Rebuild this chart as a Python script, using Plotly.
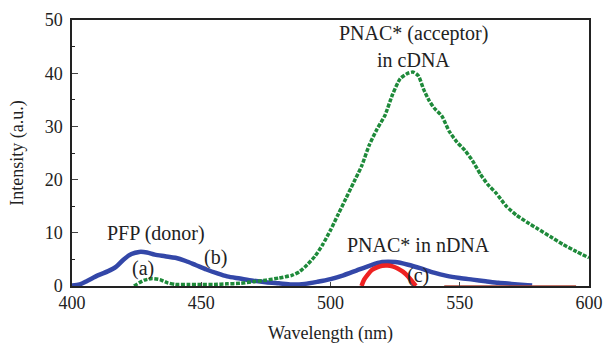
import plotly.graph_objects as go

# Blue: PFP donor + PNAC* in nDNA
blue_wl = [400, 403, 406, 410, 414, 417, 420, 423, 426, 429, 432, 436, 440, 444, 448, 452, 456, 460,
           465, 470, 475, 480, 485, 490, 495, 500, 505, 510, 515, 520, 525, 530, 535, 540, 545, 550,
           555, 560, 565, 570, 575, 578]
blue_int = [0.1, 0.3, 1.0, 2.0, 2.8, 3.6, 5.0, 6.0, 6.4, 6.3, 5.9, 5.6, 5.3, 4.7, 3.9, 3.1, 2.4, 1.8,
            1.4, 1.0, 0.7, 0.5, 0.3, 0.4, 0.8, 1.3, 2.0, 2.9, 3.8, 4.5, 4.5, 4.0, 3.3, 2.5, 1.9, 1.5,
            1.2, 0.9, 0.6, 0.4, 0.2, 0.1]

# Green: PNAC* (acceptor) in cDNA
green_wl = [424, 426, 428, 431, 434, 437, 440, 445, 450, 455, 460, 465, 470, 475, 480, 485, 488, 491,
            494, 497, 500, 503, 506, 509, 512, 515, 518, 521, 524, 527, 530, 532, 534, 536, 538, 540,
            543, 546, 549, 552, 555, 558, 561, 564, 568, 572, 576, 580, 585, 590, 595, 600]
green_int = [0, 0.6, 1.1, 1.4, 1.2, 0.6, 0.3, 0.3, 0.3, 0.3, 0.4, 0.5, 0.8, 1.1, 1.5, 2.0, 2.7, 4.0,
             5.6, 7.8, 10.5, 13.5, 16.5, 19.5, 22.5, 26.5, 29.5, 32.0, 36.0, 39.0, 40.0, 40.2, 39.5,
             37.0, 35.0, 33.5, 32.0, 29.0, 27.0, 25.5, 23.5, 21.0, 19.0, 17.5, 15.0, 13.3, 12.0, 10.8,
             9.3, 7.8, 6.5, 5.3]

# Red: (c)
red_wl = [512, 513, 514.5, 516, 518, 520, 522, 524, 526, 528, 530, 531.5, 533]
red_int = [0, 1.2, 2.2, 3.0, 3.5, 3.8, 3.85, 3.7, 3.3, 2.7, 1.8, 0.9, 0]
red_base_wl = [544, 595]
red_base_int = [0, 0]

x_ticks = [400, 450, 500, 550, 600]
y_ticks = [0, 10, 20, 30, 40, 50]

FONT = "Times New Roman, Liberation Serif, serif"
TXT = "#222222"

fig = go.Figure()
fig.add_trace(go.Scatter(x=blue_wl, y=blue_int, mode="lines",
                         line=dict(color="#3347a8", width=4.5, shape="spline", smoothing=0.8), hoverinfo="skip"))
fig.add_trace(go.Scatter(x=green_wl, y=green_int, mode="lines",
                         line=dict(color="#1e8a3a", width=3.5, dash="4px,1.5px", shape="spline", smoothing=0.6),
                         hoverinfo="skip"))
fig.add_trace(go.Scatter(x=red_wl, y=red_int, mode="lines",
                         line=dict(color="#ee2222", width=4.5, shape="spline", smoothing=0.6), hoverinfo="skip"))
fig.add_trace(go.Scatter(x=red_base_wl, y=red_base_int, mode="lines",
                         line=dict(color="#b04a3a", width=1.5), hoverinfo="skip"))

annotations = [
    ("PFP (donor)", 432.5, 9.9),
    ("(a)", 427.5, 3.2),
    ("(b)", 455.5, 5.4),
    ("PNAC* (acceptor)", 532, 47.4),
    ("in cDNA", 532, 42.5),
    ("PNAC* in nDNA", 534, 7.8),
    ("(c)", 533.8, 2.0),
]
for t, x, y in annotations:
    fig.add_annotation(x=x, y=y, text=t, showarrow=False,
                       font=dict(family=FONT, size=20, color=TXT), xanchor="center", yanchor="middle")

fig.update_layout(
    width=613, height=353,
    margin=dict(l=72, r=15, t=10, b=67),
    paper_bgcolor="white", plot_bgcolor="white",
    showlegend=False,
    font=dict(family=FONT, size=18, color=TXT),
)
fig.update_xaxes(range=[400, 600], tickvals=x_ticks, ticks="inside", ticklen=4,
                 showline=True, linecolor="#222222", linewidth=1.5, mirror=True,
                 showgrid=False, zeroline=False,
                 title=dict(text="Wavelength (nm)", font=dict(family=FONT, size=18, color=TXT), standoff=14),
                 tickfont=dict(family=FONT, size=18, color=TXT))
fig.update_yaxes(range=[0, 50], tickvals=y_ticks, ticks="inside", ticklen=6,
                 minor=dict(tickvals=[5, 15, 25, 35, 45], ticks="inside", ticklen=3, tickcolor="#222222"),
                 showline=True, linecolor="#222222", linewidth=1.5, mirror=True,
                 showgrid=False, zeroline=False, ticklabelstandoff=4,
                 title=dict(text="Intensity (a.u.)", font=dict(family=FONT, size=18, color=TXT), standoff=16),
                 tickfont=dict(family=FONT, size=18, color=TXT))

fig.write_html("out.html")
